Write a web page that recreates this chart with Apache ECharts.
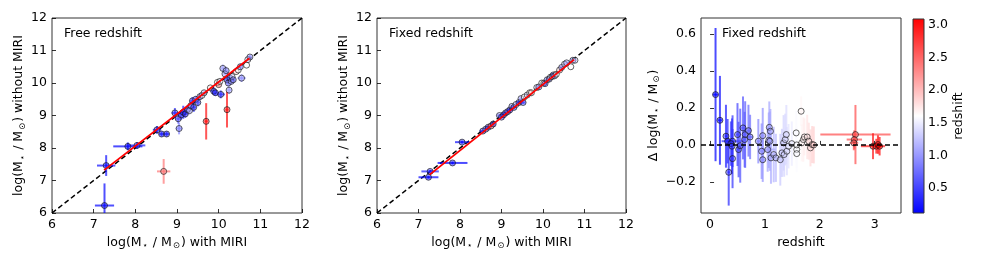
<!DOCTYPE html>
<html>
<head>
<meta charset="utf-8">
<script src="https://cdn.jsdelivr.net/npm/echarts/dist/echarts.min.js"></script>
<style>
html,body{margin:0;padding:0;background:#fff;}
#c{width:981px;height:262px;}
</style>
</head>
<body>
<div id="c"></div>
<script>
// ---------- DATA ----------
// Panel 1 (Free redshift): [massWithMIRI, massWithoutMIRI, xerr, yerr, redshift]
const freePoints = [
  [7.26, 6.23, 0.23, 0.68, 0.15],
  [7.30, 7.46, 0.22, 0.32, 0.20],
  [7.82, 8.05, 0.35, 0.12, 0.12],
  [8.04, 8.08, 0.20, 0.10, 0.35],
  [8.68, 7.28, 0.16, 0.38, 2.40],
  [8.52, 8.56, 0.10, 0.12, 0.30],
  [8.63, 8.43, 0.06, 0.08, 0.30],
  [8.75, 8.43, 0.06, 0.08, 0.30],
  [8.95, 9.08, 0.08, 0.15, 0.40],
  [9.03, 8.90, 0.07, 0.15, 0.60],
  [9.05, 8.60, 0.08, 0.18, 0.90],
  [9.10, 9.02, 0.08, 0.15, 0.50],
  [9.15, 9.10, 0.08, 0.20, 0.30],
  [9.20, 9.05, 0.06, 0.12, 0.40],
  [9.25, 9.18, 0.07, 0.14, 0.70],
  [9.30, 9.15, 0.06, 0.12, 1.20],
  [9.33, 9.30, 0.07, 0.12, 0.90],
  [9.37, 9.45, 0.06, 0.12, 0.50],
  [9.40, 9.25, 0.06, 0.14, 0.40],
  [9.45, 9.50, 0.06, 0.10, 0.80],
  [9.50, 9.40, 0.06, 0.12, 0.60],
  [9.55, 9.58, 0.05, 0.10, 1.00],
  [9.60, 9.62, 0.05, 0.08, 1.50],
  [9.65, 9.70, 0.05, 0.08, 1.30],
  [9.70, 8.82, 0.04, 0.56, 3.00],
  [9.80, 9.85, 0.05, 0.08, 1.70],
  [9.88, 9.75, 0.07, 0.12, 0.50],
  [9.92, 9.70, 0.08, 0.10, 0.40],
  [9.97, 10.02, 0.05, 0.08, 1.60],
  [10.00, 9.95, 0.05, 0.08, 2.20],
  [10.03, 10.05, 0.04, 0.07, 1.50],
  [10.05, 9.65, 0.10, 0.12, 0.40],
  [10.10, 10.45, 0.06, 0.12, 1.10],
  [10.15, 10.28, 0.06, 0.10, 1.20],
  [10.18, 10.38, 0.06, 0.12, 1.00],
  [10.20, 9.18, 0.04, 0.55, 3.00],
  [10.20, 10.10, 0.06, 0.12, 0.70],
  [10.23, 10.00, 0.06, 0.10, 0.90],
  [10.25, 9.78, 0.06, 0.12, 1.10],
  [10.27, 10.15, 0.05, 0.10, 0.50],
  [10.30, 10.05, 0.06, 0.10, 1.00],
  [10.32, 10.20, 0.05, 0.08, 1.40],
  [10.35, 10.10, 0.06, 0.10, 0.80],
  [10.42, 10.35, 0.05, 0.08, 1.80],
  [10.47, 10.40, 0.05, 0.10, 1.60],
  [10.52, 10.50, 0.06, 0.10, 1.00],
  [10.55, 10.15, 0.10, 0.12, 1.00],
  [10.67, 10.55, 0.05, 0.08, 1.60],
  [10.70, 10.72, 0.05, 0.06, 1.40],
  [10.75, 10.80, 0.04, 0.06, 1.00]
];
const freeFit = [[7.25, 7.32], [10.74, 10.76]];

// Panel 2 (Fixed redshift): [massWithMIRI, massWithoutMIRI, xerr, yerr, redshift]
const fixedPoints = [
  [7.24, 7.10, 0.24, 0.04, 0.15],
  [7.28, 7.28, 0.21, 0.04, 0.30],
  [7.82, 7.54, 0.36, 0.04, 0.12],
  [8.05, 8.18, 0.17, 0.04, 0.20],
  [8.55, 8.52, 0.08, 0.03, 0.40],
  [8.62, 8.58, 0.06, 0.03, 0.80],
  [8.68, 8.64, 0.06, 0.03, 0.50],
  [8.75, 8.68, 0.10, 0.03, 2.40],
  [8.80, 8.74, 0.06, 0.03, 0.60],
  [8.95, 9.00, 0.07, 0.04, 0.90],
  [9.00, 8.95, 0.06, 0.04, 0.50],
  [9.05, 9.02, 0.06, 0.04, 0.40],
  [9.10, 9.08, 0.07, 0.04, 0.60],
  [9.15, 9.12, 0.06, 0.04, 0.70],
  [9.20, 9.17, 0.06, 0.04, 0.30],
  [9.25, 9.28, 0.06, 0.04, 1.00],
  [9.30, 9.25, 0.06, 0.04, 0.50],
  [9.35, 9.34, 0.05, 0.04, 1.20],
  [9.42, 9.40, 0.06, 0.04, 0.40],
  [9.47, 9.52, 0.05, 0.04, 1.10],
  [9.52, 9.40, 0.06, 0.04, 0.50],
  [9.55, 9.57, 0.05, 0.03, 1.60],
  [9.62, 9.63, 0.05, 0.03, 1.30],
  [9.68, 9.70, 0.05, 0.03, 1.70],
  [9.72, 9.70, 0.05, 0.03, 1.80],
  [9.85, 9.86, 0.05, 0.03, 1.40],
  [9.90, 9.88, 0.05, 0.03, 0.90],
  [9.97, 10.00, 0.04, 0.03, 1.60],
  [10.02, 10.00, 0.04, 0.03, 1.90],
  [10.05, 9.98, 0.05, 0.03, 0.60],
  [10.10, 10.10, 0.05, 0.03, 1.00],
  [10.15, 10.12, 0.05, 0.03, 0.80],
  [10.18, 10.18, 0.05, 0.03, 1.50],
  [10.22, 10.20, 0.05, 0.03, 1.20],
  [10.25, 10.25, 0.05, 0.03, 0.70],
  [10.28, 10.22, 0.05, 0.03, 1.10],
  [10.32, 10.27, 0.05, 0.03, 1.60],
  [10.40, 10.40, 0.05, 0.03, 1.80],
  [10.45, 10.48, 0.05, 0.03, 1.00],
  [10.52, 10.58, 0.05, 0.03, 1.30],
  [10.57, 10.62, 0.05, 0.03, 1.10],
  [10.67, 10.50, 0.04, 0.03, 1.60],
  [10.72, 10.70, 0.04, 0.03, 1.00],
  [10.77, 10.70, 0.04, 0.03, 1.30]
];
const fixedFit = [[7.27, 7.18], [10.75, 10.72]];

// Panel 3 (Fixed redshift): [redshift, deltaLogMass, zerr, deltaErr]
const deltaPoints = [
  [0.10, 0.272, 0.05, 0.36],
  [0.18, 0.133, 0.04, 0.24],
  [0.29, 0.047, 0.02, 0.17],
  [0.32, 0.020, 0.02, 0.12],
  [0.34, -0.148, 0.02, 0.18],
  [0.41, 0.020, 0.20, 0.14],
  [0.38, 0.007, 0.02, 0.12],
  [0.40, -0.007, 0.02, 0.15],
  [0.41, -0.074, 0.02, 0.16],
  [0.50, 0.056, 0.03, 0.17],
  [0.52, -0.025, 0.03, 0.15],
  [0.55, -0.004, 0.03, 0.20],
  [0.60, 0.092, 0.03, 0.17],
  [0.63, 0.029, 0.03, 0.15],
  [0.64, 0.056, 0.03, 0.18],
  [0.70, 0.077, 0.04, 0.14],
  [0.73, 0.043, 0.05, 0.12],
  [0.88, 0.020, 0.03, 0.12],
  [0.94, -0.034, 0.03, 0.15],
  [0.96, 0.050, 0.03, 0.15],
  [0.96, -0.080, 0.04, 0.12],
  [1.05, -0.025, 0.15, 0.12],
  [1.07, 0.025, 0.03, 0.15],
  [1.08, 0.095, 0.03, 0.14],
  [1.10, 0.074, 0.03, 0.12],
  [1.09, 0.020, 0.03, 0.16],
  [1.11, -0.070, 0.03, 0.14],
  [1.16, -0.052, 0.03, 0.15],
  [1.20, -0.070, 0.03, 0.13],
  [1.28, -0.080, 0.03, 0.14],
  [1.31, -0.043, 0.03, 0.13],
  [1.34, 0.011, 0.04, 0.15],
  [1.35, -0.052, 0.03, 0.12],
  [1.37, 0.029, 0.03, 0.14],
  [1.39, 0.056, 0.03, 0.16],
  [1.40, -0.034, 0.03, 0.13],
  [1.43, -0.007, 0.03, 0.12],
  [1.49, 0.007, 0.03, 0.12],
  [1.57, 0.065, 0.03, 0.12],
  [1.58, -0.025, 0.03, 0.10],
  [1.58, -0.047, 0.03, 0.10],
  [1.58, 0.000, 0.03, 0.10],
  [1.66, 0.182, 0.03, 0.08],
  [1.67, 0.011, 0.03, 0.10],
  [1.70, 0.029, 0.03, 0.12],
  [1.72, 0.043, 0.03, 0.10],
  [1.77, 0.043, 0.03, 0.12],
  [1.80, 0.020, 0.03, 0.10],
  [1.83, -0.016, 0.03, 0.10],
  [1.86, 0.002, 0.03, 0.10],
  [1.89, 0.000, 0.03, 0.10],
  [2.65, 0.056, 0.64, 0.16],
  [2.63, 0.029, 0.14, 0.05],
  [2.62, 0.011, 0.08, 0.04],
  [2.97, -0.007, 0.22, 0.07],
  [3.03, -0.007, 0.08, 0.04],
  [3.06, 0.002, 0.06, 0.05],
  [3.09, -0.007, 0.05, 0.05]
];

const massTicks = [6, 7, 8, 9, 10, 11, 12];
const zTicks = [0, 1, 2, 3];
const deltaTicks = [-0.2, 0.0, 0.2, 0.4, 0.6];
const cbarTicks = [0.5, 1.0, 1.5, 2.0, 2.5, 3.0];
const zRange = [0.12, 3.09];
const panelTitles = ['Free redshift', 'Fixed redshift', 'Fixed redshift'];

// ---------- STYLE HELPERS ----------
const FONT = 'DejaVu Sans';
function bwr(z, a) {
  let t = (z - zRange[0]) / (zRange[1] - zRange[0]);
  t = Math.max(0, Math.min(1, t));
  let r, g, b;
  if (t < 0.5) { r = g = Math.round(510 * t); b = 255; }
  else { r = 255; g = b = Math.round(510 * (1 - t)); }
  return 'rgba(' + r + ',' + g + ',' + b + ',' + a + ')';
}
const massName = (prefix, suffix) =>
  '{n|' + prefix + 'log(M}{s|⋆}{n| / M}{s|⊙}{n|)' + suffix + '}';
const richName = {
  n: { fontSize: 12.5, fontFamily: FONT, color: '#000' },
  s: { fontSize: 8.5, fontFamily: FONT, color: '#000', padding: [7, 1, 0, 1] }
};

function valAxis(gi, min, max, opts) {
  return Object.assign({
    type: 'value', gridIndex: gi, min: min, max: max,
    splitLine: { show: false },
    axisLine: { show: false },
    axisTick: { show: true, inside: true, length: 4, lineStyle: { color: '#000', width: 0.8 } },
    axisLabel: { color: '#000', fontSize: 12.5, fontFamily: FONT, margin: 5 },
    nameLocation: 'middle',
    nameTextStyle: { rich: richName }
  }, opts);
}

function errSeries(xi, yi, data, lw, alpha) {
  return {
    type: 'custom', xAxisIndex: xi, yAxisIndex: yi, clip: true, z: 2,
    data: data,
    renderItem: function (params, api) {
      const x = api.value(0), y = api.value(1), xe = api.value(2), ye = api.value(3), zz = api.value(4);
      const col = bwr(zz, alpha);
      const a = api.coord([x - xe, y]), b = api.coord([x + xe, y]);
      const c = api.coord([x, y - ye]), d = api.coord([x, y + ye]);
      return { type: 'group', children: [
        { type: 'line', shape: { x1: a[0], y1: a[1], x2: b[0], y2: b[1] }, style: { stroke: col, lineWidth: lw } },
        { type: 'line', shape: { x1: c[0], y1: c[1], x2: d[0], y2: d[1] }, style: { stroke: col, lineWidth: lw } }
      ]};
    }
  };
}
function markerSeries(xi, yi, data) {
  return {
    type: 'scatter', xAxisIndex: xi, yAxisIndex: yi, z: 3, symbolSize: 6,
    data: data.map(p => ({ value: [p[0], p[1]], itemStyle: { color: bwr(p[4], 0.55), borderColor: '#111', borderWidth: 0.8 } }))
  };
}
function lineSeries(xi, yi, pts, color, type, w, zz) {
  return {
    type: 'line', xAxisIndex: xi, yAxisIndex: yi, data: pts, symbol: 'none', z: zz,
    lineStyle: { color: color, width: w, type: type }, silent: true, animation: false
  };
}

const delta5 = deltaPoints.map(p => [p[0], p[1], p[2], p[3], p[0]]);
const fmt1 = v => v.toFixed(1).replace('-', '\u2212');

const option = {
  animation: false,
  backgroundColor: '#fff',
  textStyle: { fontFamily: FONT },
  grid: [
    { left: 52, top: 18, width: 250, height: 195, show: true, borderColor: '#333', borderWidth: 1 },
    { left: 377, top: 18, width: 249, height: 195, show: true, borderColor: '#333', borderWidth: 1 },
    { left: 701, top: 18, width: 200, height: 195, show: true, borderColor: '#333', borderWidth: 1 },
    { left: 913, top: 19, width: 11, height: 194, show: false }
  ],
  xAxis: [
    valAxis(0, 6, 12, { interval: 1, name: massName('', ' with MIRI'), nameGap: 19 }),
    valAxis(1, 6, 12, { interval: 1, name: massName('', ' with MIRI'), nameGap: 19 }),
    valAxis(2, -0.165, 3.48, {
      name: '{n|redshift}', nameGap: 19,
      axisTick: { show: true, inside: true, length: 4, customValues: zTicks, lineStyle: { color: '#000', width: 0.8 } },
      axisLabel: { color: '#000', fontSize: 12.5, fontFamily: FONT, margin: 5, customValues: zTicks }
    }),
    { type: 'value', gridIndex: 3, min: 0, max: 1, show: false }
  ],
  yAxis: [
    valAxis(0, 6, 12, { interval: 1, name: massName('', ' without MIRI'), nameGap: 21 }),
    valAxis(1, 6, 12, { interval: 1, name: massName('', ' without MIRI'), nameGap: 21 }),
    valAxis(2, -0.368, 0.686, {
      name: massName('\u0394 ', ''), nameGap: 37,
      axisTick: { show: true, inside: true, length: 4, customValues: deltaTicks, lineStyle: { color: '#000', width: 0.8 } },
      axisLabel: { color: '#000', fontSize: 12.5, fontFamily: FONT, margin: 5, customValues: deltaTicks, formatter: fmt1 }
    }),
    {
      type: 'value', gridIndex: 3, min: zRange[0], max: zRange[1], position: 'right',
      splitLine: { show: false }, axisLine: { show: false },
      axisTick: { show: true, inside: false, length: 3.5, customValues: cbarTicks, lineStyle: { color: '#000', width: 0.8 } },
      axisLabel: { color: '#000', fontSize: 12.5, fontFamily: FONT, margin: 4, customValues: cbarTicks, formatter: fmt1 },
      name: 'redshift', nameLocation: 'middle', nameGap: 27, nameRotate: 90,
      nameTextStyle: { color: '#000', fontSize: 12.5, fontFamily: FONT }
    }
  ],
  graphic: [
    { type: 'text', left: 64, top: 27, style: { text: panelTitles[0], fill: '#000', font: '12.5px "DejaVu Sans"' } },
    { type: 'text', left: 389, top: 27, style: { text: panelTitles[1], fill: '#000', font: '12.5px "DejaVu Sans"' } },
    { type: 'text', left: 722, top: 27, style: { text: panelTitles[2], fill: '#000', font: '12.5px "DejaVu Sans"' } }
  ],
  series: [
    lineSeries(0, 0, [[6, 6], [12, 12]], '#000', [5, 3], 1.5, 1),
    errSeries(0, 0, freePoints, 2, 0.7),
    markerSeries(0, 0, freePoints),
    lineSeries(0, 0, freeFit, '#ff0000', 'solid', 1.8, 4),

    lineSeries(1, 1, [[6, 6], [12, 12]], '#000', [5, 3], 1.5, 1),
    errSeries(1, 1, fixedPoints, 2, 0.7),
    markerSeries(1, 1, fixedPoints),
    lineSeries(1, 1, fixedFit, '#ff0000', 'solid', 1.8, 4),

    errSeries(2, 2, delta5, 2, 0.7),
    markerSeries(2, 2, delta5),
    lineSeries(2, 2, [[-0.165, 0], [3.48, 0]], '#000', [5, 3], 1.5, 4),

    {
      type: 'custom', xAxisIndex: 3, yAxisIndex: 3, data: [[0, zRange[0], 1, zRange[1]]],
      renderItem: function (params, api) {
        const p0 = api.coord([api.value(0), api.value(3)]);
        const p1 = api.coord([api.value(2), api.value(1)]);
        return {
          type: 'rect',
          shape: { x: p0[0], y: p0[1], width: p1[0] - p0[0], height: p1[1] - p0[1] },
          style: {
            fill: { type: 'linear', x: 0, y: 1, x2: 0, y2: 0, colorStops: [
              { offset: 0, color: '#0000ff' }, { offset: 0.5, color: '#ffffff' }, { offset: 1, color: '#ff0000' }] },
            stroke: '#333', lineWidth: 1
          }
        };
      }
    }
  ]
};

const chart = echarts.init(document.getElementById('c'), null, { renderer: 'canvas' });
chart.setOption(option);
</script>
</body>
</html>
